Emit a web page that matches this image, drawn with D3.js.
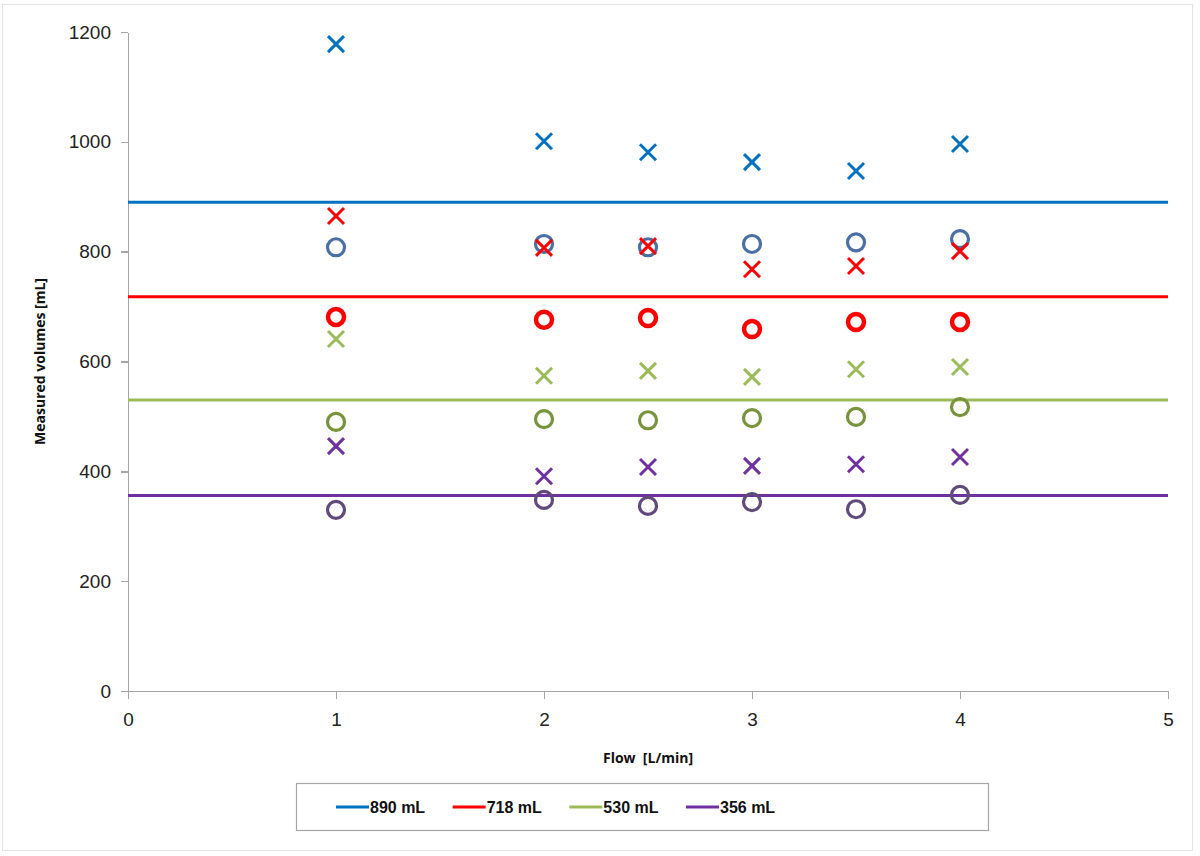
<!DOCTYPE html>
<html lang="en">
<head>
    <meta charset="UTF-8">
    <title>Measured volumes vs Flow</title>
    <script src="https://d3js.org/d3.v7.min.js"></script>
    <style>
        body {
            margin: 0;
            background: #fff;
            font-family: "Open Sans", "Liberation Sans", sans-serif;
        }
        .axis path, .axis line {
            stroke: #a6a6a6;
            stroke-width: 1.5;
            shape-rendering: crispEdges;
        }
        .axis text {
            font-size: 19px;
            fill: #222;
        }
        .title {
            font-size: 14px;
            font-weight: bold;
            fill: #111;
            white-space: pre;
        }
        .legend text {
            font-family: "Liberation Sans Narrow", "Liberation Sans", sans-serif;
            font-size: 16px;
            font-weight: bold;
            fill: #111;
        }
    </style>
</head>
<body>
<svg id="chart"></svg>
<script>
    // Flow rates (L/min)
    const flows = [1, 2, 2.5, 3, 3.5, 4];

    // Reference volumes (horizontal lines)
    const refNames = ["890 mL", "718 mL", "530 mL", "356 mL"];
    const refValues = [890, 718, 530, 356];
    const lineColors = ["#0070C0", "#FF0000", "#9BBB59", "#7030A0"];
    const circleColors = ["#4A6FA5", "#FF0000", "#77933C", "#604A7B"];

    // Measured values: crosses and circles per reference volume
    const cross890 = [1178, 1001, 981, 963, 947, 996];
    const circle890 = [808, 814, 808, 814, 817, 823];
    const cross718 = [865, 807, 810, 768, 774, 801];
    const circle718 = [681, 676, 679, 659, 672, 672];
    const cross530 = [641, 574, 583, 572, 586, 590];
    const circle530 = [490, 495, 493, 497, 499, 517];
    const cross356 = [446, 391, 408, 410, 413, 426];
    const circle356 = [330, 348, 337, 344, 331, 357];

    const crosses = [cross890, cross718, cross530, cross356];
    const circles = [circle890, circle718, circle530, circle356];

    const xTicks = [0, 1, 2, 3, 4, 5];
    const yTicks = [0, 200, 400, 600, 800, 1000, 1200];

    const W = 1200, H = 856;
    const margin = { top: 32, right: 32, bottom: 165, left: 128 };
    const width = W - margin.left - margin.right;
    const height = H - margin.top - margin.bottom;

    const svg = d3.select("#chart").attr("width", W).attr("height", H);

    // outer frame
    svg.append("rect")
        .attr("x", 2.5).attr("y", 4.5)
        .attr("width", 1190).attr("height", 846)
        .attr("fill", "none")
        .attr("stroke", "#e3e3e3");

    const g = svg.append("g").attr("transform", `translate(${margin.left},${margin.top})`);

    const x = d3.scaleLinear().domain([0, 5]).range([0, width]);
    const y = d3.scaleLinear().domain([0, 1200]).range([height, 0]);

    g.append("g")
        .attr("class", "axis")
        .attr("transform", `translate(0,${height})`)
        .call(d3.axisBottom(x).tickValues(xTicks).tickSize(8).tickPadding(14).tickFormat(d3.format("d")))
        .call(a => a.selectAll(".tick line").attr("y1", 0));

    g.append("g")
        .attr("class", "axis")
        .call(d3.axisLeft(y).tickValues(yTicks).tickSize(7).tickPadding(10).tickSizeOuter(0).tickFormat(d3.format("d")))
        .call(a => a.selectAll(".tick line").attr("x1", -7).attr("x2", 0));

    // axis titles
    g.append("text")
        .attr("class", "title")
        .attr("x", width / 2)
        .attr("y", height + 72)
        .attr("text-anchor", "middle")
        .text("Flow  [L/min]");

    g.append("text")
        .attr("class", "title")
        .attr("transform", `translate(${-83},${height / 2}) rotate(-90)`)
        .attr("text-anchor", "middle")
        .text("Measured volumes [mL]");

    // reference lines
    g.selectAll(".ref")
        .data(refValues)
        .join("line")
        .attr("class", "ref")
        .attr("x1", 0).attr("x2", width)
        .attr("y1", d => y(d)).attr("y2", d => y(d))
        .attr("stroke", (d, i) => lineColors[i])
        .attr("stroke-width", 3);

    // markers
    refValues.forEach((r, i) => {
        g.append("g").selectAll("circle")
            .data(circles[i])
            .join("circle")
            .attr("cx", (d, j) => x(flows[j]))
            .attr("cy", d => y(d))
            .attr("r", i === 1 ? 8 : 8.5)
            .attr("fill", "none")
            .attr("stroke", circleColors[i])
            .attr("stroke-width", i === 1 ? 4.5 : 3.2);

        const s = 8;
        g.append("g").selectAll("path")
            .data(crosses[i])
            .join("path")
            .attr("d", (d, j) => {
                const cx = x(flows[j]), cy = y(d);
                return `M${cx - s},${cy - s}L${cx + s},${cy + s}M${cx - s},${cy + s}L${cx + s},${cy - s}`;
            })
            .attr("stroke", lineColors[i])
            .attr("stroke-width", 3)
            .attr("fill", "none");
    });

    // legend
    const legend = svg.append("g").attr("class", "legend");
    legend.append("rect")
        .attr("x", 296.5).attr("y", 783.5)
        .attr("width", 692).attr("height", 47)
        .attr("fill", "#fff")
        .attr("stroke", "#a6a6a6")
        .attr("stroke-width", 1.2);

    const legX = d3.scalePoint().domain(refNames).range([336, 686]);
    const item = legend.selectAll(".item")
        .data(refNames)
        .join("g")
        .attr("class", "item")
        .attr("transform", d => `translate(${legX(d)},807)`);
    item.append("line")
        .attr("x1", 0).attr("x2", 33)
        .attr("stroke", (d, i) => lineColors[i])
        .attr("stroke-width", 3);
    item.append("text")
        .attr("x", 34)
        .attr("dy", "0.35em")
        .text(d => d);
</script>
</body>
</html>
